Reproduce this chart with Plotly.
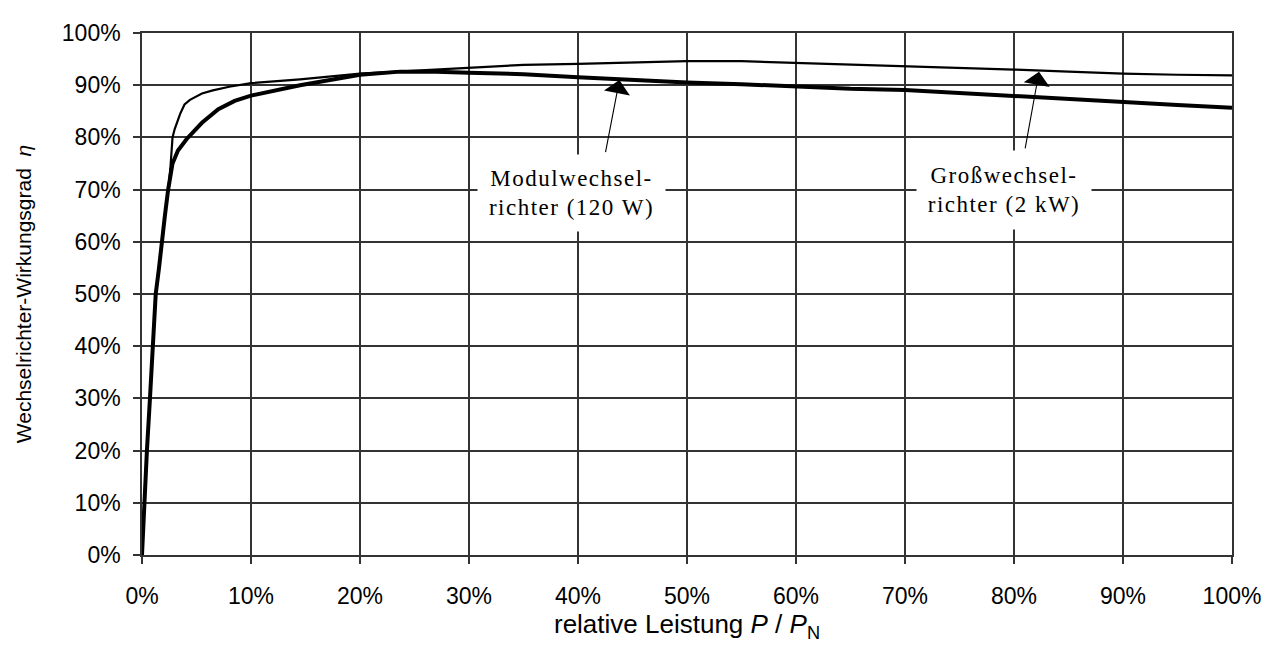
import plotly.graph_objects as go

# relative power P/P_N in %, efficiency in %
x_modul = [0, 0.2, 0.45, 0.73, 1.0, 1.26, 1.56, 1.8, 2.1, 2.4, 2.8, 3.3, 4.1, 5.5, 7, 8.5,
           10, 14.5, 20, 23.7, 27, 30, 35, 40, 45, 50, 55, 60, 65, 70, 75, 80, 85, 90, 95, 100]
eta_modul = [0, 10, 20, 30, 40, 50, 55, 60, 65, 70, 75, 77.5, 79.7, 82.8, 85.4, 87.0,
             88.0, 90.0, 92.0, 92.6, 92.6, 92.4, 92.1, 91.5, 91.0, 90.5, 90.2, 89.7, 89.3, 89.1,
             88.5, 88.0, 87.4, 86.7, 86.2, 85.7]

x_gross = [0, 0.2, 0.45, 0.73, 1.0, 1.26, 1.56, 1.8, 2.1, 2.4, 2.6, 2.8, 3.0, 3.5, 3.9, 4.4,
           5.5, 6.5, 8, 10, 14.5, 20, 25, 30, 35, 40, 45, 50, 55, 60, 65, 70, 75, 80, 85, 90, 95, 100]
eta_gross = [0, 10, 20, 30, 40, 50, 55, 60, 65, 70, 74, 80, 81.6, 84.5, 86.3, 87.2,
             88.4, 89.0, 89.7, 90.4, 91.1, 92.2, 92.8, 93.4, 93.9, 94.1, 94.4, 94.6, 94.6, 94.3,
             93.9, 93.7, 93.4, 93.0, 92.6, 92.2, 92.0, 91.9]

tick_vals = [0, 10, 20, 30, 40, 50, 60, 70, 80, 90, 100]
tick_text = [f"{v}%" for v in tick_vals]

sp = '<span style="letter-spacing:1.5px">'
label_modul = sp + "Modulwechsel-</span><br>" + sp + "richter (120 W)</span>"
label_gross = sp + "Großwechsel-</span><br>" + sp + "richter (2 kW)</span>"

fig = go.Figure()
fig.add_trace(go.Scatter(x=x_gross, y=eta_gross, mode="lines",
                         line=dict(color="black", width=2.2), showlegend=False))
fig.add_trace(go.Scatter(x=x_modul, y=eta_modul, mode="lines",
                         line=dict(color="black", width=4), showlegend=False))

serif = dict(family="Liberation Serif", size=23, color="black")

# arrows
fig.add_annotation(x=43.8, y=91.0, ax=42.5, ay=76.9, axref="x", ayref="y",
                   xref="x", yref="y", text="", showarrow=True,
                   arrowhead=1, arrowsize=4, arrowwidth=1.1, arrowcolor="black")
fig.add_annotation(x=82.3, y=92.6, ax=81.0, ay=77.6, axref="x", ayref="y",
                   xref="x", yref="y", text="", showarrow=True,
                   arrowhead=1, arrowsize=4, arrowwidth=1.1, arrowcolor="black")
# labels
fig.add_annotation(x=39.4, y=69.4, xref="x", yref="y", text=label_modul, showarrow=False,
                   font=serif, bgcolor="white", width=185, height=74, align="center")
fig.add_annotation(x=79.1, y=70.0, xref="x", yref="y", text=label_gross, showarrow=False,
                   font=serif, bgcolor="white", width=172, height=76, align="center")

axis_common = dict(showgrid=True, gridcolor="#333333", gridwidth=1.5,
                   showline=True, linecolor="#333333", linewidth=1.5, mirror=True,
                   ticks="outside", ticklen=7, tickcolor="#333333", tickwidth=1.5,
                   zeroline=False,
                   tickfont=dict(family="Liberation Sans", size=23, color="black"))

fig.update_xaxes(range=[0, 100], tickvals=tick_vals, ticktext=tick_text,
                 ticklabelstandoff=13,
                 title=dict(text="relative Leistung <i>P</i> / <i>P</i><sub>N</sub>",
                            font=dict(family="Liberation Sans", size=26, color="black"),
                            standoff=6),
                 **axis_common)
fig.update_yaxes(range=[0, 100], tickvals=tick_vals, ticktext=tick_text,
                 ticklabelstandoff=8,
                 title=dict(text="Wechselrichter-Wirkungsgrad  <i>η</i>",
                            font=dict(family="Liberation Sans", size=21, color="black"),
                            standoff=24),
                 **axis_common)

# the page adds an 8px body margin, so the figure is sized/margined to compensate
fig.update_layout(width=1265, height=647, plot_bgcolor="white", paper_bgcolor="white",
                  margin=dict(l=134, r=41, t=14, b=100), showlegend=False)

fig.write_html("out.html")
